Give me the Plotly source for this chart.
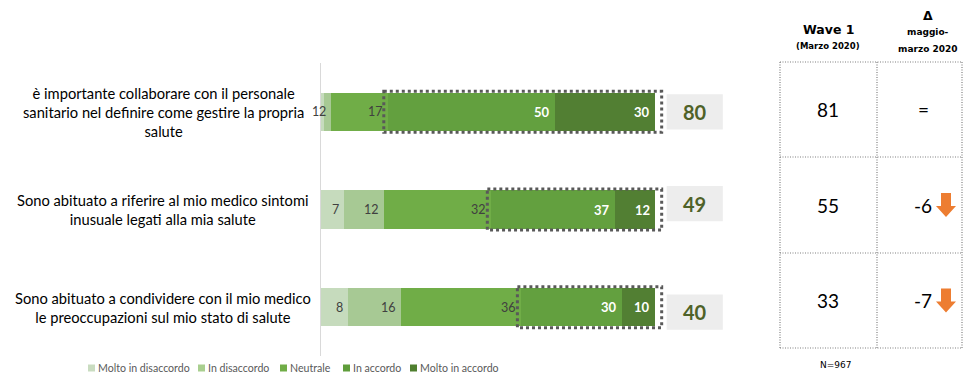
import plotly.graph_objects as go

# ---------------- data ----------------
categories = [
    "è importante collaborare con il personale<br>sanitario nel definire come gestire la propria<br>salute",
    "Sono abituato a riferire al mio medico sintomi<br>inusuale legati alla mia salute",
    "Sono abituato a condividere con il mio medico<br>le preoccupazioni sul mio stato di salute",
]
series_names = ["Molto in disaccordo", "In disaccordo", "Neutrale", "In accordo", "Molto in accordo"]
molto_disaccordo = [1, 7, 8]
disaccordo = [2, 12, 16]
neutrale = [17, 32, 36]
accordo = [50, 37, 30]
molto_accordo = [30, 12, 10]
totals = [80, 49, 40]
wave1 = [81, 55, 33]
delta = ["=", "-6", "-7"]
delta_arrow = [False, True, True]
header_wave = ["Wave 1", "(Marzo 2020)"]
header_delta = ["Δ", "maggio-", "marzo 2020"]
note = "N=967"

series_values = [molto_disaccordo, disaccordo, neutrale, accordo, molto_accordo]

# ---------------- style ----------------
W, H = 965, 374
colors = ["#c6dbbd", "#a7c994", "#70ad47", "#63a03f", "#527f33"]
legend_colors = ["#c9dcc0", "#a9cf8f", "#70ad47", "#5f9d3b", "#4f7f2f"]
label_colors = ["#404040", "#404040", "#404040", "white", "white"]
label_bold = [False, False, False, True, True]
FONT = "Lato"
HFONT = "DejaVu Sans"

def px(x):
    return x / W

def py(y):
    return 1 - y / H

# axis geometry (pixels)
x_start, x_100, x_end = 321, 655, 745
y_top, y_bot = 63, 356
x_range_max = 100 * (x_end - x_start) / (x_100 - x_start)

fig = go.Figure()
for name, vals, col in zip(series_names, series_values, colors):
    fig.add_trace(go.Bar(
        y=categories, x=vals, name=name, orientation="h",
        marker=dict(color=col, line=dict(width=0)),
        width=0.39, showlegend=False, hoverinfo="skip",
    ))

annotations = []
shapes = []

def ann(**kw):
    kw.setdefault("showarrow", False)
    kw.setdefault("xanchor", "center")
    kw.setdefault("yanchor", "middle")
    annotations.append(kw)

# segment labels
for r, cat in enumerate(categories):
    cum = 0
    for i, vals in enumerate(series_values):
        cum += vals[r]
        ann(x=cum, y=r, xref="x", yref="y",
            text=("<b>%d</b>" % vals[r]) if label_bold[i] else str(vals[r]),
            xanchor="right", xshift=-3,
            font=dict(family=FONT, size=13 if label_bold[i] else 12.5, color=label_colors[i]))
    # dotted box around agree segments
    agree_start = sum(series_values[k][r] for k in range(3))
    agree_end = agree_start + accordo[r] + molto_accordo[r]
    shapes.append(dict(
        type="rect", xref="x", yref="y",
        x0=agree_start - 1.2, x1=agree_end + 2.0, y0=r - 0.21, y1=r + 0.21,
        line=dict(color="#595959", width=3, dash="dot"), layer="above",
    ))

# total boxes
box_offsets = [0.0, -0.06, 0.05]
for r, tot in enumerate(totals):
    cy = r + box_offsets[r]
    shapes.append(dict(
        type="rect", xref="x", yref="y", x0=103.5, x1=120.3, y0=cy - 0.18, y1=cy + 0.18,
        fillcolor="#ededed", line=dict(width=0), layer="below",
    ))
    ann(x=(103.5 + 120.3) / 2, y=cy, xref="x", yref="y", text="<b>%d</b>" % tot,
        font=dict(family=FONT, size=20, color="#4f6228"))

# category labels
for r, cat in enumerate(categories):
    ann(x=px(163), y=r, xref="paper", yref="y", text=cat, align="center",
        font=dict(family=FONT, size=14.7, color="black"))

# legend (custom)
leg_sq_x = [88, 198, 280, 343, 410]
leg_y = 368
for i, name in enumerate(series_names):
    shapes.append(dict(
        type="rect", xref="paper", yref="paper",
        x0=px(leg_sq_x[i]), x1=px(leg_sq_x[i] + 7), y0=py(leg_y + 3.5), y1=py(leg_y - 3.5),
        fillcolor=legend_colors[i], line=dict(width=0),
    ))
    ann(x=px(leg_sq_x[i] + 8), y=py(leg_y), xref="paper", yref="paper", text=name,
        xanchor="left", font=dict(family=FONT, size=10.6, color="#595959"))

# table grid
tx = [780, 877, 962]
ty = [62, 157, 253, 348]
grid = dict(color="#808080", width=1.2, dash="1px,1.5px")
for x in tx:
    shapes.append(dict(type="line", xref="paper", yref="paper", x0=px(x), x1=px(x),
                       y0=py(ty[0]), y1=py(ty[-1]), line=grid))
for y in ty:
    shapes.append(dict(type="line", xref="paper", yref="paper", x0=px(tx[0]), x1=px(tx[-1]),
                       y0=py(y), y1=py(y), line=grid))

col1_x, col2_x = 828, 923
# headers
ann(x=px(col1_x), y=py(30), xref="paper", yref="paper", text="<b>%s</b>" % header_wave[0],
    font=dict(family=HFONT, size=12.5, color="black"))
ann(x=px(col1_x), y=py(46), xref="paper", yref="paper", text="<b>%s</b>" % header_wave[1],
    font=dict(family=HFONT, size=8.5, color="black"))
for txt, yy, sz in zip(header_delta, [15, 32, 49], [12.5, 9, 9]):
    ann(x=px(928), y=py(yy), xref="paper", yref="paper", text="<b>%s</b>" % txt,
        font=dict(family=HFONT, size=sz, color="black"))

# table values
for r in range(3):
    cy = (ty[r] + ty[r + 1]) / 2
    ann(x=px(col1_x), y=py(cy), xref="paper", yref="paper", text=str(wave1[r]),
        font=dict(family=FONT, size=19, color="black"))
    if delta_arrow[r]:
        ann(x=px(934), y=py(cy), xref="paper", yref="paper", text=delta[r], xanchor="right",
            font=dict(family=FONT, size=19, color="black"))
        ax0, ax1 = 936, 956
        top, mid, bot = cy - 12, cy + 1, cy + 12
        sx0, sx1 = 941, 951
        path = "M %f %f L %f %f L %f %f L %f %f L %f %f L %f %f L %f %f Z" % (
            px(sx0), py(top), px(sx1), py(top), px(sx1), py(mid), px(ax1), py(mid),
            px((ax0 + ax1) / 2), py(bot), px(ax0), py(mid), px(sx0), py(mid))
        shapes.append(dict(type="path", xref="paper", yref="paper", path=path,
                           fillcolor="#ed7d31", line=dict(width=0)))
    else:
        ann(x=px(col2_x), y=py(cy), xref="paper", yref="paper", text=delta[r],
            font=dict(family=FONT, size=19, color="black"))

ann(x=px(835), y=py(365), xref="paper", yref="paper", text=note,
    font=dict(family=HFONT, size=9, color="black"))

fig.update_layout(
    width=W, height=H, margin=dict(l=0, r=0, t=0, b=0),
    paper_bgcolor="white", plot_bgcolor="white",
    barmode="stack", bargap=0,
    xaxis=dict(domain=[px(x_start), px(x_end)], range=[0, x_range_max], visible=False, fixedrange=True),
    yaxis=dict(domain=[py(y_bot), py(y_top)], range=[2.5, -0.5], type="category",
               categoryorder="array", categoryarray=categories,
               showline=True, linecolor="#d9d9d9", linewidth=1,
               showticklabels=False, showgrid=False, zeroline=False, ticks="", fixedrange=True),
    shapes=shapes, annotations=annotations, showlegend=False,
)

fig.write_html("out.html")
